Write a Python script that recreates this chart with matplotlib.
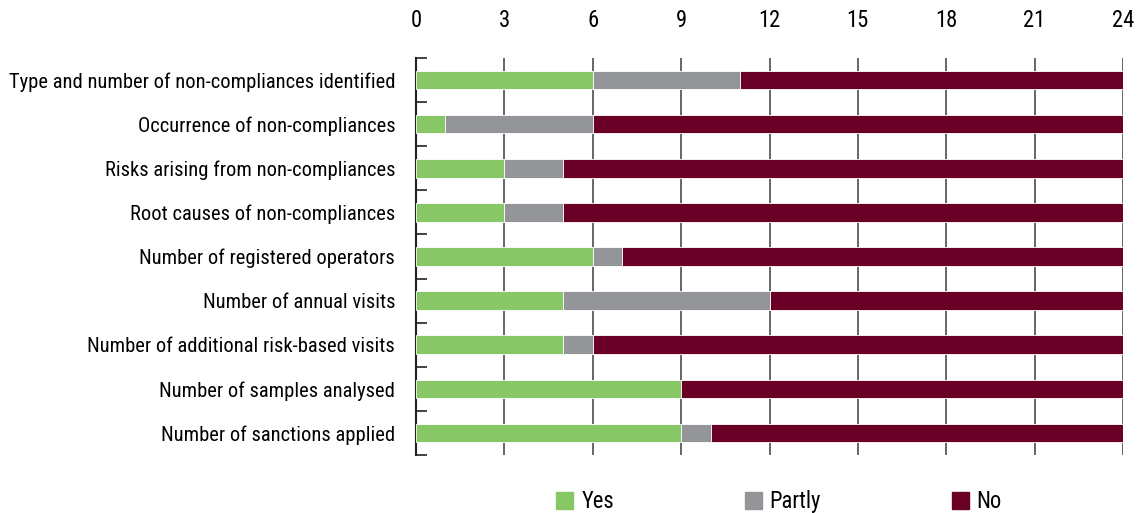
import matplotlib.pyplot as plt
from matplotlib import font_manager
from matplotlib.font_manager import FontProperties
from matplotlib.patches import Patch

categories = [
    'Type and number of non-compliances identified',
    'Occurrence of non-compliances',
    'Risks arising from non-compliances',
    'Root causes of non-compliances',
    'Number of registered operators',
    'Number of annual visits',
    'Number of additional risk-based visits',
    'Number of samples analysed',
    'Number of sanctions applied',
]
yes = [6, 1, 3, 3, 6, 5, 5, 9, 9]
partly = [5, 5, 2, 2, 1, 7, 1, 0, 1]
no = [13, 18, 19, 19, 17, 12, 18, 15, 14]
legend_labels = ['Yes', 'Partly', 'No']

c_yes = '#88c766'
c_partly = '#949598'
c_no = '#6b0026'


# the original uses a condensed face, look for a narrow one that is installed
def pick_font():
    order = ['Roboto Condensed', 'Open Sans Condensed', 'Liberation Sans Narrow',
             'Noto Sans', 'Open Sans', 'Roboto', 'DejaVu Sans']
    found = {}
    for f in font_manager.fontManager.ttflist:
        fn = f.fname.lower()
        narrow = ('condensed' in fn or 'narrow' in fn or
                  f.stretch in ('condensed', 'semi-condensed', 'extra-condensed'))
        if not narrow or f.style != 'normal':
            continue
        if 'bold' in fn or 'light' in fn or 'thin' in fn or 'black' in fn or 'medium' in fn \
                or 'semi' in fn.replace('semicondensed', '') or 'extra' in fn.replace('extracondensed', ''):
            continue
        if f.weight not in (400, 'normal', 'regular'):
            continue
        found.setdefault(f.name, f.fname)
    for n in order:
        if n in found:
            return FontProperties(fname=found[n])
    if found:
        return FontProperties(fname=sorted(found.values())[0])
    return FontProperties(family='DejaVu Sans')


fp = pick_font()

fig = plt.figure(figsize=(11.44, 5.13), dpi=100)
ax = fig.add_axes([416 / 1144, 58 / 513, (1123 - 416) / 1144, (455 - 58) / 513])

y = list(range(len(categories)))
left2 = [a + b for a, b in zip(yes, partly)]
h = 0.42
ax.barh(y, yes, height=h, color=c_yes, edgecolor='white', linewidth=0.6, zorder=3)
ax.barh(y, partly, left=yes, height=h, color=c_partly, edgecolor='white', linewidth=0.6, zorder=3)
ax.barh(y, no, left=left2, height=h, color=c_no, edgecolor='white', linewidth=0.6, zorder=3)

ax.set_xlim(0, 24)
ax.set_ylim(len(categories) - 0.5, -0.5)
ax.set_xticks(range(0, 25, 3))
ax.xaxis.tick_top()
ax.tick_params(axis='x', length=0, pad=19)
ax.grid(axis='x', color='#4d4d4d', linewidth=1.2, zorder=1)

ax.set_yticks(y)
ax.set_yticklabels(categories)
ax.set_yticks([i - 0.5 for i in range(len(categories) + 1)], minor=True)
ax.tick_params(axis='y', which='major', length=0, pad=15)
ax.tick_params(axis='y', which='minor', direction='in', length=8, width=1.2, color='#222222')

for s in ['top', 'right', 'bottom']:
    ax.spines[s].set_visible(False)
ax.spines['left'].set_linewidth(1.5)
ax.spines['left'].set_color('#222222')

# size the labels so the longest one spans about what it does in the original
size = 17
for lab in ax.get_yticklabels():
    lab.set_fontproperties(fp)
    lab.set_fontsize(size)
fig.canvas.draw()
r = fig.canvas.get_renderer()
widest = max(l.get_window_extent(r).width for l in ax.get_yticklabels())
if widest > 384:
    size = size * 384 / widest
for lab in ax.get_yticklabels():
    lab.set_fontsize(size)
tsize = min(18, size * 1.1)
for lab in ax.get_xticklabels():
    lab.set_fontproperties(fp)
    lab.set_fontsize(tsize)

handles = [Patch(color=c, label=l) for c, l in zip([c_yes, c_partly, c_no], legend_labels)]
lp = fp.copy()
lp.set_size(tsize)
fig.legend(handles=handles, loc='lower center', bbox_to_anchor=(0.681, -0.04), ncol=3,
           frameon=False, prop=lp, columnspacing=5.8, handlelength=0.75,
           handleheight=0.75, handletextpad=0.35)

fig.savefig('out.png', dpi=100)
